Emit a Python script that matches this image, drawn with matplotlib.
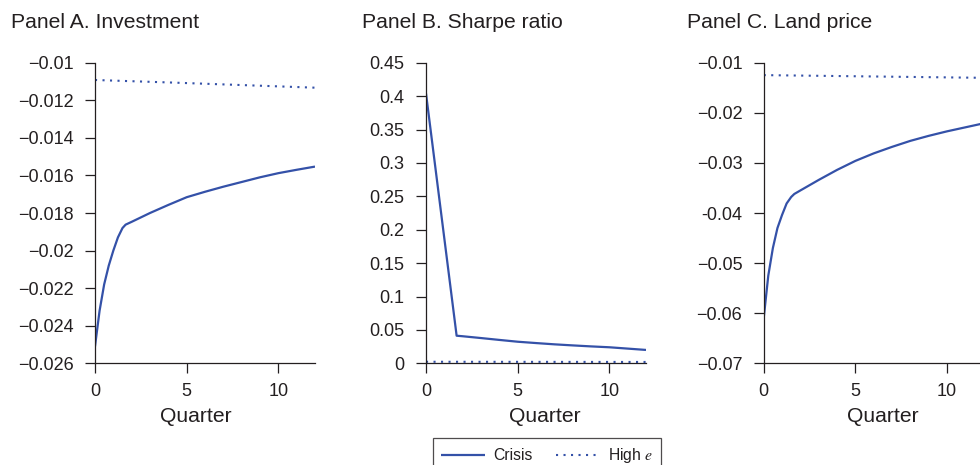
import matplotlib
matplotlib.use("Agg")
import matplotlib.pyplot as plt

plt.rcParams['font.family'] = ['Liberation Sans', 'DejaVu Sans']
plt.rcParams['mathtext.fontset'] = 'stix'

# ---------------- data ----------------
quarters = [0, 0.25, 0.5, 0.75, 1.0, 1.25, 1.5, 1.67, 2, 3, 4, 5, 6, 7, 8, 9, 10, 11, 12]

invest_crisis = [-0.0251, -0.0232, -0.0218, -0.0208, -0.0200, -0.0193, -0.0188, -0.01862,
                 -0.01847, -0.01800, -0.01757, -0.01716, -0.01687, -0.01660, -0.01635,
                 -0.01610, -0.01588, -0.01570, -0.01553]
sharpe_crisis = [0.404, 0.3497, 0.2954, 0.2411, 0.1868, 0.1326, 0.0783, 0.0413,
                 0.0405, 0.0378, 0.0350, 0.0323, 0.0303, 0.0284, 0.0268,
                 0.0253, 0.0240, 0.0220, 0.0200]
land_crisis = [-0.0610, -0.0525, -0.0470, -0.0430, -0.0404, -0.0381, -0.0368, -0.0362,
               -0.0355, -0.0334, -0.0314, -0.0296, -0.0281, -0.0268, -0.0256,
               -0.0246, -0.0237, -0.0229, -0.0221]

highe_quarters = [0, 4, 8, 12]
invest_highe = [-0.01092, -0.01105, -0.01119, -0.01133]
sharpe_highe = [0.0023, 0.0022, 0.0021, 0.0020]
land_highe = [-0.01248, -0.01266, -0.01284, -0.01302]

panel_titles = ["Panel A. Investment", "Panel B. Sharpe ratio", "Panel C. Land price"]
x_ticks = [0, 5, 10]
x_ticklabels = ["0", "5", "10"]

invest_yticks = [-0.01, -0.012, -0.014, -0.016, -0.018, -0.02, -0.022, -0.024, -0.026]
invest_yticklabels = ["\u22120.01", "\u22120.012", "\u22120.014", "\u22120.016", "\u22120.018",
                      "\u22120.02", "\u22120.022", "\u22120.024", "\u22120.026"]
sharpe_yticks = [0, 0.05, 0.1, 0.15, 0.2, 0.25, 0.3, 0.35, 0.4, 0.45]
sharpe_yticklabels = ["0", "0.05", "0.1", "0.15", "0.2", "0.25", "0.3", "0.35", "0.4", "0.45"]
land_yticks = [-0.01, -0.02, -0.03, -0.04, -0.05, -0.06, -0.07]
land_yticklabels = ["\u22120.01", "\u22120.02", "\u22120.03", "-0.04", "\u22120.05",
                    "\u22120.06", "\u22120.07"]

series_labels = ["Crisis", "High $e$"]

# ---------------- style ----------------
W, H = 980, 465
BLUE = '#3451a8'
TXT = '#231f20'

fig = plt.figure(figsize=(W / 100, H / 100), dpi=100)

def fx(px):
    return px / W

def fy(py):
    return 1 - py / H

axes_left_px = [95, 426, 763.7]
axes_w_px = 220
top_px, bot_px = 62.7, 363.3
title_x_px = [11, 362, 687]
xlabel_center_px = [196, 545, 883]

panels = [
    (invest_crisis, invest_highe, invest_yticks, invest_yticklabels, (-0.026, -0.01)),
    (sharpe_crisis, sharpe_highe, sharpe_yticks, sharpe_yticklabels, (0, 0.45)),
    (land_crisis, land_highe, land_yticks, land_yticklabels, (-0.07, -0.01)),
]

handles = None
for i, (crisis, highe, yt, ytl, ylim) in enumerate(panels):
    l = axes_left_px[i]
    ax = fig.add_axes([fx(l), fy(bot_px), fx(axes_w_px), (bot_px - top_px) / H])
    h1, = ax.plot(quarters, crisis, color=BLUE, lw=1.6, solid_capstyle='butt',
                  solid_joinstyle='round')
    h2, = ax.plot(highe_quarters, highe, color=BLUE, lw=1.5,
                  linestyle=(0, (1, 2.6)))
    if handles is None:
        handles = [h1, h2]
    ax.set_xlim(0, 12)
    ax.set_ylim(*ylim)
    ax.set_xticks(x_ticks)
    ax.set_xticklabels(x_ticklabels)
    ax.set_yticks(yt)
    ax.set_yticklabels(ytl)
    for s in ['top', 'right']:
        ax.spines[s].set_visible(False)
    for s in ['left', 'bottom']:
        ax.spines[s].set_color(TXT)
        ax.spines[s].set_linewidth(0.9)
    ax.tick_params(axis='y', direction='out', length=7.2, width=0.9, pad=8.2,
                   labelsize=13, colors=TXT)
    ax.tick_params(axis='x', direction='out', length=7.2, width=0.9, pad=7,
                   labelsize=13, colors=TXT)
    ax.patch.set_visible(False)
    # x label
    fig.text(fx(xlabel_center_px[i]), fy(422), "Quarter", ha='center', va='baseline',
             fontsize=15.2, color=TXT)
    # panel title
    fig.text(fx(title_x_px[i]), fy(28.3), panel_titles[i], ha='left', va='baseline',
             fontsize=15.2, color=TXT)

leg = fig.legend(handles, series_labels, loc='upper left',
                 bbox_to_anchor=(fx(433.3), fy(438.3)), ncol=2, frameon=True,
                 fontsize=11.3, handlelength=2.8, columnspacing=1.5,
                 borderpad=0.5, handletextpad=0.5, borderaxespad=0,
                 fancybox=False, labelcolor=TXT)
leg.get_frame().set_edgecolor(TXT)
leg.get_frame().set_linewidth(0.9)

fig.savefig("out.png", dpi=100)
